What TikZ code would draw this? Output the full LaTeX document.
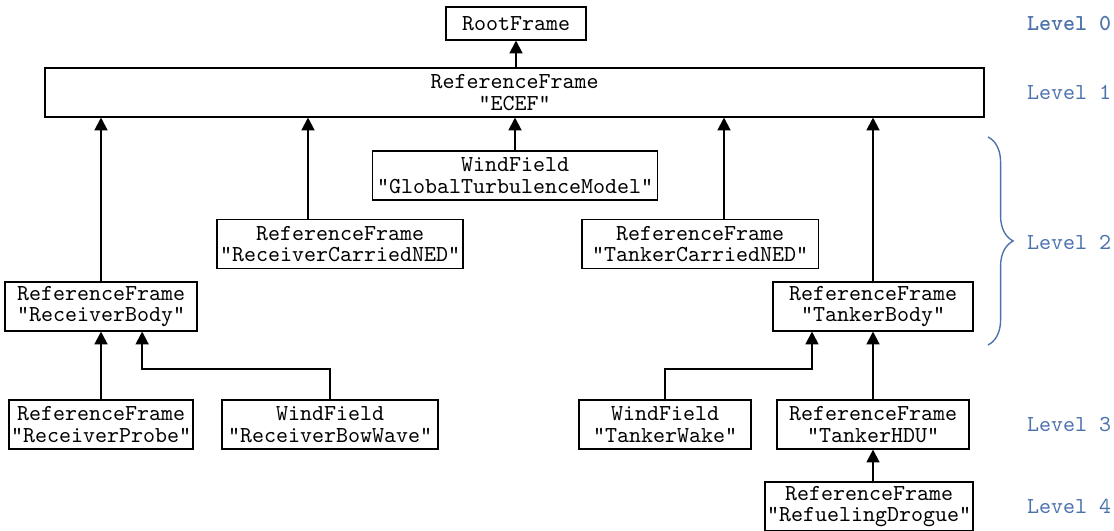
\documentclass[tikz,border=0pt]{standalone}
\usetikzlibrary{arrows.meta,decorations.pathreplacing}
\definecolor{levelblue}{RGB}{76,114,172}

\begin{document}
\begin{tikzpicture}[x=0.4375pt,y=-0.4375pt,
	frame/.style={draw,line width=0.5pt,font=\ttfamily\fontsize{10pt}{9.4pt}\selectfont,align=center,inner xsep=0.5pt,inner ysep=1pt,minimum height=21.4pt},
	link/.style={line width=0.9pt,-{Triangle[width=5.6pt,length=5.6pt]}},
	level/.style={anchor=west,font=\ttfamily,text=levelblue}]
	  \useasboundingbox (0,0) rectangle (1114,531);   % page size

	  % level 0 and 1
	  \node[frame,minimum height=14.4pt,minimum width=61.25pt] (root) at (516,23.5) {RootFrame};
	  \node[frame,minimum width=410.8pt] (ecef) at (514.5,92.5) {ReferenceFrame\\"ECEF"};

	  % level 2
	  \node[frame,minimum width=125pt] (globalwind) at (515,175.5) {WindField\\"GlobalTurbulenceModel"};
	  \node[frame,minimum width=107.6pt] (rcned) at (340,244) {ReferenceFrame\\"ReceiverCarriedNED"};
	  \node[frame,minimum width=103.3pt] (tcned) at (700,244) {ReferenceFrame\\"TankerCarriedNED"};
	  \node[frame,minimum width=84pt] (rbody) at (101,306.5) {ReferenceFrame\\"ReceiverBody"};
	  \node[frame,minimum width=87.5pt] (tbody) at (873,306.5) {ReferenceFrame\\"TankerBody"};

	  % level 3
	  \node[frame,minimum width=80.5pt] (rprobe) at (101,424.5) {ReferenceFrame\\"ReceiverProbe"};
	  \node[frame,minimum width=94.5pt] (rbow) at (330,424.5) {WindField\\"ReceiverBowWave"};
	  \node[frame,minimum width=75.25pt] (twake) at (665,424.5) {WindField\\"TankerWake"};
	  \node[frame,minimum width=84pt] (thdu) at (873,424.5) {ReferenceFrame\\"TankerHDU"};

	  % level 4
	  \node[frame,minimum width=91pt] (drogue) at (869,506.5) {ReferenceFrame\\"RefuelingDrogue"};

	  % parent links
	  \draw[link] (ecef.north -| root.south) -- (root.south);
	  \draw[link] (globalwind.north) -- (globalwind.north |- ecef.south);
	  \draw[link] ([xshift=-14pt]rcned.north) -- ([xshift=-14pt]rcned.north |- ecef.south);
	  \draw[link] ([xshift=10.5pt]tcned.north) -- ([xshift=10.5pt]tcned.north |- ecef.south);
	  \draw[link] (rbody.north) -- (rbody.north |- ecef.south);
	  \draw[link] (tbody.north) -- (tbody.north |- ecef.south);
	  \draw[link] (rprobe.north) -- (rprobe.north |- rbody.south);
	  \draw[link] (rbow.north) -- ++(0,-30) -| ([xshift=18pt]rbody.south);
	  \draw[link] (twake.north) -- ++(0,-30) -| ([xshift=-26.7pt]tbody.south);
	  \draw[link] (thdu.north) -- (tbody.south);
	  \draw[link] (thdu.south |- drogue.north) -- (thdu.south);

	  % level labels
	  \node[level,font=\ttfamily\bfseries] (lvl0) at (1019,23.5) {Level 0};
	  \node[level] (lvl1) at (1019,92.5) {Level 1};
	  \node[level] (lvl2) at (1019,242) {Level 2};
	  \node[level] (lvl3) at (1019,424.5) {Level 3};
	  \node[level] (lvl4) at (1019,506.5) {Level 4};
	  \draw[levelblue,line width=0.6pt,decorate,decoration={brace,amplitude=11pt}] (988,137) -- (988,345);   % level 2 brace
\end{tikzpicture}
\end{document}
